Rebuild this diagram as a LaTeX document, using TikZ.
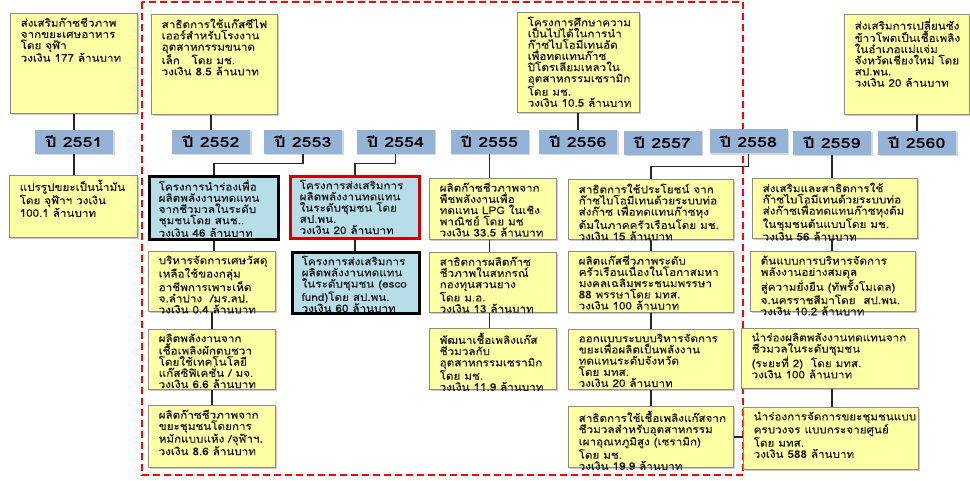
\documentclass[tikz,border=0pt]{standalone}
\usepackage{fontspec}
\newfontfamily\thai[Script=Thai, FakeStretch=1.1, FakeBold=0.2]{Loma}
\newfontfamily\thaiyr[Script=Thai, FakeStretch=1.28]{Loma}
\usetikzlibrary{shadows}
\definecolor{ybg}{RGB}{255,255,166}
\definecolor{yedge}{RGB}{140,140,140}
\definecolor{bbg}{RGB}{183,221,232}
\definecolor{yrbg}{RGB}{149,179,215}
\definecolor{redb}{RGB}{200,0,0}
\definecolor{dashred}{RGB}{255,0,0}
\definecolor{txt}{RGB}{25,25,25}
\tikzset{
  boxbase/.style={rectangle, inner sep=0pt, anchor=north west,
    drop shadow={shadow xshift=1.5pt, shadow yshift=-1.5pt, fill=black!45, opacity=.45}},
  ybox/.style={boxbase, fill=ybg, draw=yedge, line width=1.1pt},
  bkbox/.style={boxbase, fill=bbg, draw=black, line width=3pt},
  rdbox/.style={boxbase, fill=bbg, draw=redb, line width=3pt},
  btxt/.style={anchor=north west, inner sep=0pt, align=left, text=txt,
    font=\thai\fontsize{10.6}{11.2}\selectfont},
  yearbox/.style={rectangle, fill=yrbg, minimum width=78pt, minimum height=24pt,
    inner sep=0pt, font=\thaiyr\bfseries\fontsize{14}{16}\selectfont,
    drop shadow={shadow xshift=1.5pt, shadow yshift=-1.5pt, fill=black!40, opacity=.4}},
  conn/.style={draw=black!85, line width=1.2pt},
  frame/.style={draw=dashred, line width=2.6pt, dash pattern=on 7pt off 4pt}
}
\newcommand\tbox[7]{%
  \node[#6, minimum width=#4pt, minimum height=#5pt] (#1) at (#2,#3) {};
  \node[btxt] (#1t) at ([xshift=10.5pt,yshift=-4.5pt]#1.north west) {#7};
}
\begin{document}
\begin{tikzpicture}[x=1pt,y=-1pt]
\useasboundingbox (0,0) rectangle (970,481);
\fill[white] (0,0) rectangle (970,481);
% red dashed frame
\draw[frame] (142,2) rectangle (743,475);

% year boxes
\node[yearbox] (y2551) at (74,142) {ปี 2551};
\node[yearbox] (y2552) at (211,142) {ปี 2552};
\node[yearbox] (y2553) at (303,142) {ปี 2553};
\node[yearbox] (y2554) at (395.5,142) {ปี 2554};
\node[yearbox] (y2555) at (489.5,142) {ปี 2555};
\node[yearbox] (y2556) at (578,142) {ปี 2556};
\node[yearbox] (y2557) at (662.5,143) {ปี 2557};
\node[yearbox] (y2558) at (748.5,141.5) {ปี 2558};
\node[yearbox] (y2559) at (832,143) {ปี 2559};
\node[yearbox] (y2560) at (917,143) {ปี 2560};

% top boxes
\tbox{A}{10}{13}{127}{100}{ybox}{ส่งเสริมก๊าซชีวภาพ\\จากขยะเศษอาหาร\\โดย จุฬ้า\\วงเงิน 177 ล้านบาท}
\tbox{B}{151}{14}{126}{100}{ybox}{สาธิตการใช้แก๊สซีไฟ\\เออร์สำหรับโรงงาน\\อุตสาหกรรมขนาด\\เล็ก \ \ โดย มช.\\วงเงิน 8.5 ล้านบาท}
\tbox{C}{517}{12}{122}{100}{ybox}{โครงการศึกษาความ\\เป็นไปได้ในการนำ\\ก๊าซไบโอมีเทนอัด\\เพื่อทดแทนก๊าซ\\ปิโตรเลียมเหลวใน\\อุตสาหกรรมเซรามิก\\โดย มช.\\วงเงิน 10.5 ล้านบาท}
\tbox{D}{844}{14}{125}{100}{ybox}{ส่งเสริมการเปลี่ยนซัง\\ข้าวโพดเป็นเชื้อเพลิง\\ในอำเภอแม่แจ่ม\\จังหวัดเชียงใหม่ โดย\\สป.พน.\\วงเงิน 20 ล้านบาท}

% lower boxes
\tbox{E}{9}{175}{128}{62}{ybox}{แปรรูปขยะเป็นน้ำมัน\\โดย จุฬ้าฯ วงเงิน\\100.1 ล้านบาท}
\tbox{F}{148}{175}{129}{63}{bkbox}{โครงการนำร่องเพื่อ\\ผลิตพลังงานทดแทน\\จากชีวมวลในระดับ\\ชุมชนโดย สนช..\\วงเงิน 46 ล้านบาท}
\tbox{G}{289}{175}{129}{62}{rdbox}{โครงการส่งเสริมการ\\ผลิตพลังงานทดแทน\\ในระดับชุมชน โดย\\สป.พน.\\วงเงิน 20 ล้านบาท}
\tbox{H}{148}{251}{127}{60}{ybox}{บริหารจัดการเศษวัสดุ\\เหลือใช้ของกลุ่ม\\อาชีพการเพาะเห็ด\\จ.ลำปาง \ /มร.ลป.\\วงเงิน 0.4 ล้านบาท}
\tbox{I}{148}{329}{127}{60}{ybox}{ผลิตพลังงานจาก\\เชื้อเพลิงผักตบชวา\\โดยใช้เทคโนโลยี\\แก๊สซิฟิเคชั่น / มจ.\\วงเงิน 6.6 ล้านบาท}
\tbox{J}{148}{405}{127}{62}{ybox}{ผลิตก๊าซชีวภาพจาก\\ขยะชุมชนโดยการ\\หมักแบบแห้ง /จุฬ้าฯ.\\วงเงิน 8.6 ล้านบาท}
\tbox{K}{291}{251}{127}{61}{bkbox}{โครงการส่งเสริมการ\\ผลิตพลังงานทดแทน\\ในระดับชุมชน (esco\\fund)โดย สป.พน.\\วงเงิน 60 ล้านบาท}
\tbox{L}{429}{178}{127}{61}{ybox}{ผลิตก๊าซชีวภาพจาก\\พืชพลังงานเพื่อ\\ทดแทน LPG ในเชิง\\พาณิชย์ โดย มช\\วงเงิน 33.5 ล้านบาท}
\tbox{M}{429}{252}{127}{60}{ybox}{สาธิตการผลิตก๊าซ\\ชีวภาพในสหกรณ์\\กองทุนสวนยาง\\โดย ม.อ.\\วงเงิน 13 ล้านบาท}
\tbox{N}{429}{328}{127}{61}{ybox}{พัฒนาเชื้อเพลิงแก๊ส\\ชีวมวลกับ\\อุตสาหกรรมเซรามิก\\โดย มช.\\วงเงิน 11.9 ล้านบาท}
\tbox{O}{568}{179}{165}{60}{ybox}{สาธิตการใช้ประโยชน์ จาก\\ก๊าซไบโอมีเทนด้วยระบบท่อ\\ส่งก๊าซ เพื่อทดแทนก๊าซหุง\\ต้มในภาคครัวเรือนโดย มช.\\วงเงิน 15 ล้านบาท}
\tbox{P}{568}{251}{165}{61}{ybox}{ผลิตแก๊สชีวภาพระดับ\\ครัวเรือนเนื่องในโอกาสมหา\\มงคลเฉลิมพระชนมพรรษา\\88 พรรษาโดย มทส.\\วงเงิน 100 ล้านบาท}
\tbox{Q}{568}{329}{165}{60}{ybox}{ออกแบบระบบบริหารจัดการ\\ขยะเพื่อผลิตเป็นพลังงาน\\ทดแทนระดับจังหวัด\\โดย มทส.\\วงเงิน 20 ล้านบาท}
\tbox{R}{568}{406}{165}{61}{ybox}{สาธิตการใช้เชื้อเพลิงแก๊สจาก\\ชีวมวลสำหรับอุตสาหกรรม\\เผาอุณหภูมิสูง (เซรามิก)\\โดย มช.\\วงเงิน 19.9 ล้านบาท}
\tbox{S}{752}{178}{165}{60}{ybox}{ส่งเสริมและสาธิตการใช้\\ก๊าซไบโอมีเทนด้วยระบบท่อ\\ส่งก๊าซเพื่อทดแทนก๊าซหุงต้ม\\ในชุมชนต้นแบบโดย มช.\\วงเงิน 56 ล้านบาท}
\tbox{T}{750}{251}{165}{60}{ybox}{ต้นแบบการบริหารจัดการ\\พลังงานอย่างสมดุล\\สู่ความยั่งยืน (ทัพรั้งโมเดล)\\จ.นครราชสีมาโดย \ สป.พน.\\วงเงิน 10.2 ล้านบาท}
\tbox{U}{741}{328}{177}{60}{ybox}{นำร่องผลิตพลังงานทดแทนจาก\\ชีวมวลในระดับชุมชน\\(ระยะที่ 2) \ โดย มทส.\\วงเงิน 100 ล้านบาท}
\tbox{V}{743}{407}{175}{62}{ybox}{นำร่องการจัดการขยะชุมชนแบบ\\ครบวงจร แบบกระจายศูนย์\\โดย มทส.\\วงเงิน 588 ล้านบาท}

% connectors
\draw[conn] (A.south -| y2551) -- (y2551.north);
\draw[conn] (B.south -| y2552) -- (y2552.north);
\draw[conn] (C.south -| y2556) -- (y2556.north);
\draw[conn] (D.south -| y2560) -- (y2560.north);
\draw[conn] (y2551.south) -- (y2551.south |- E.north);
\draw[conn] (y2553.south) -- ++(0,9) -| (F.north);
\draw[conn] (y2554.south) -- ++(0,9) -| (G.north);
\draw[conn] (F.south) -- (F.south |- H.north);
\draw[conn] (H.south) -- (H.south |- I.north);
\draw[conn] (I.south) -- (I.south |- J.north);
\draw[conn] (G.south) -- (G.south |- K.north);
\draw[conn] (y2555.south) -- (y2555.south |- L.north);
\draw[conn] (L.south -| y2555) -- (M.north -| y2555);
\draw[conn] (M.south -| y2555) -- (N.north -| y2555);
\draw[conn] (y2558.south) -- ++(0,13) -| (O.north);
\draw[conn] (O.south) -- (O.south |- P.north);
\draw[conn] (P.south) -- (P.south |- Q.north);
\draw[conn] (Q.south) -- (Q.south |- R.north);
\draw[conn] (y2559.south) -- (y2559.south |- S.north);
\draw[conn] (S.south -| y2559) -- (T.north -| y2559);
\draw[conn] (U.south -| y2559) -- (V.north -| y2559);
\draw[conn] (R.east) -- (R.east -| V.west);
\end{tikzpicture}
\end{document}
